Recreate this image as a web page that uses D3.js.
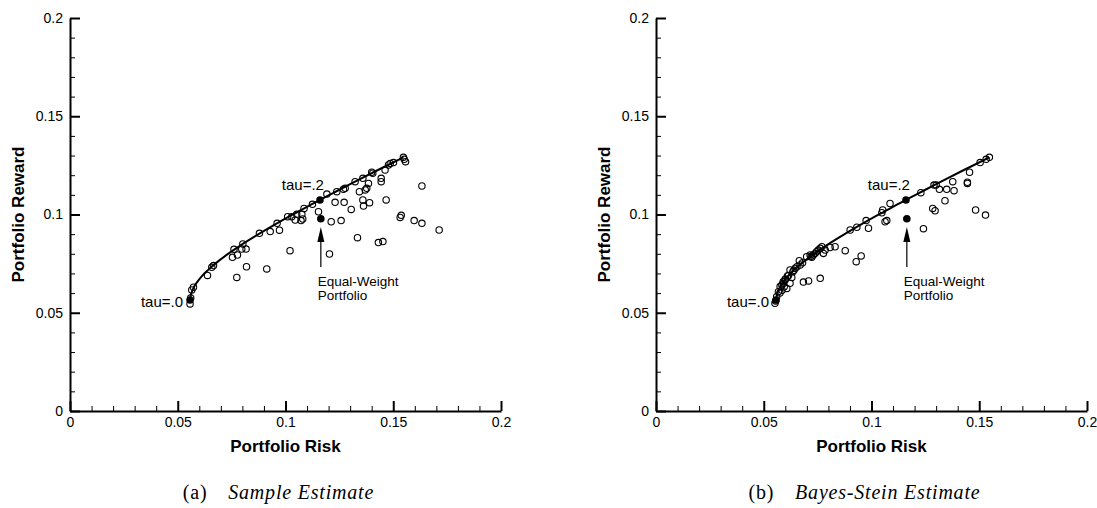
<!DOCTYPE html>
<html><head><meta charset="utf-8">
<script src="https://cdn.jsdelivr.net/npm/d3@7"></script>
<style>body{margin:0;background:#fff} svg{display:block}</style>
</head><body><svg id="c" width="1097" height="508"></svg>
<script>
const majorTicks=[0,0.05,0.1,0.15,0.2];
const tickLabels=["0","0.05","0.1","0.15","0.2"];
const minorTicks=[0.01,0.02,0.03,0.04,0.06,0.07,0.08,0.09,0.11,0.12,0.13,0.14,0.16,0.17,0.18,0.19];
const xTitle="Portfolio Risk", yTitle="Portfolio Reward";

const frontierRisk=[0.0557,0.0560,0.0565,0.0575,0.0590,0.0610,0.0640,0.0680,0.0730,0.0790,0.0860,0.0940,0.1030,0.1120,0.1160,0.1250,0.1350,0.1450,0.1547];
const frontierReward=[0.0557,0.0587,0.0605,0.0630,0.0656,0.0684,0.0717,0.0755,0.0797,0.0842,0.0890,0.0942,0.0998,0.1051,0.1075,0.1126,0.1183,0.1238,0.1291];

const sampleRisk=[0.0557,0.0560,0.0565,0.0573,0.0638,0.0658,0.0666,0.0754,0.0761,0.0777,0.0774,0.0802,0.0797,0.0817,0.0819,0.0879,0.0913,0.0929,0.0972,0.0961,0.1021,0.1010,0.1029,0.1045,0.1052,0.1072,0.1076,0.1086,0.1080,0.1153,
0.1212,0.1204,0.1230,0.1258,0.1272,0.1269,0.1238,0.1305,0.1323,0.1334,0.1343,0.1359,0.1362,0.1370,0.1377,0.1390,0.1385,0.1359,0.1405,0.1444,0.1444,0.1467,0.1431,0.1452,0.1462,0.1486,0.1501,0.1532,0.1537,0.1547,0.1551,0.1557,0.1597,0.1633,0.1633,0.1713,0.1192,0.1277,0.1400,0.1478,0.1125];
const sampleReward=[0.0545,0.0575,0.0616,0.0630,0.0690,0.0731,0.0740,0.0782,0.0823,0.0794,0.0680,0.0850,0.0824,0.0824,0.0734,0.0904,0.0723,0.0913,0.0920,0.0955,0.0816,0.0989,0.0989,0.0972,0.1001,0.0969,0.1001,0.1031,0.0977,0.1014,
0.0963,0.0799,0.1062,0.0969,0.1062,0.1128,0.1116,0.1026,0.1167,0.0882,0.1116,0.1074,0.1043,0.1125,0.1133,0.1060,0.1158,0.1184,0.1210,0.1184,0.1167,0.1074,0.0857,0.0862,0.1226,0.1260,0.1264,0.0985,0.0996,0.1291,0.1281,0.1269,0.0969,0.1145,0.0955,0.0921,0.1104,0.1133,0.1215,0.1252,0.1052];

const bayesRisk=[0.0552,0.0555,0.0560,0.0568,0.0576,0.0584,0.0591,0.0599,0.0607,0.0622,0.0630,0.0610,0.0622,0.0635,0.0646,0.0654,0.0669,0.0684,0.0708,0.0762,0.0665,0.0699,0.0715,0.0723,0.0730,0.0738,0.0745,0.0753,0.0762,0.0770,0.0777,0.0785,0.0808,0.0831,0.0878,0.0929,0.0952,0.0901,0.0932,0.0986,0.0975,0.1052,0.1063,0.1071,0.1086,0.1048,
0.1229,0.1241,0.1284,0.1295,0.1290,0.1300,0.1315,0.1341,0.1349,0.1377,0.1383,0.1445,0.1445,0.1455,0.1483,0.1529,0.1504,0.1532,0.1547,
0.0590,0.0600,0.0615,0.0640,0.0680,0.0720,0.0575,0.0585,0.0595];
const bayesReward=[0.0548,0.0560,0.0582,0.0607,0.0633,0.0641,0.0650,0.0667,0.0624,0.0650,0.0680,0.0687,0.0718,0.0709,0.0726,0.0734,0.0743,0.0656,0.0662,0.0675,0.0765,0.0785,0.0794,0.0782,0.0794,0.0802,0.0811,0.0819,0.0828,0.0836,0.0802,0.0819,0.0832,0.0836,0.0816,0.0760,0.0789,0.0921,0.0935,0.0930,0.0969,0.1023,0.0963,0.0969,0.1056,0.1009,
0.1111,0.0928,0.1031,0.1019,0.1150,0.1150,0.1128,0.1070,0.1128,0.1167,0.1121,0.1164,0.1158,0.1215,0.1023,0.0997,0.1264,0.1281,0.1291,
0.0658,0.0672,0.0690,0.0716,0.0755,0.0787,0.0600,0.0615,0.0632];

const tauRisk=[0.0557,0.1160];
const tauReward=[0.0565,0.1074];
const tauLabels=["tau=.0","tau=.2"];
const eqRisk=[0.1164], eqReward=[0.0978];
const eqLabel=["Equal-Weight","Portfolio"];
const arrowBase=[0.0733], arrowTip=[0.0936];
const captionTags=["(a)","(b)"];
const captionTexts=["Sample Estimate","Bayes-Stein Estimate"];

const svg=d3.select("#c");
const yTop=18, yBottom=411, W=431;
const panelLefts=[70,656];
const series=[[sampleRisk,sampleReward],[bayesRisk,bayesReward]];

panelLefts.forEach((L,pi)=>{
  const x=d3.scaleLinear().domain([0,0.2]).range([L,L+W]);
  const y=d3.scaleLinear().domain([0,0.2]).range([yBottom,yTop]);
  const g=svg.append("g");
  const font="Liberation Sans, Arial, Helvetica, sans-serif";
  // minor ticks
  g.append("g").attr("transform",`translate(0,${yBottom})`)
    .call(d3.axisBottom(x).tickValues(minorTicks).tickSize(-5).tickFormat(""))
    .call(s=>{s.select(".domain").remove();s.selectAll("line").attr("stroke","#000").attr("stroke-width",1);});
  g.append("g").attr("transform",`translate(${L},0)`)
    .call(d3.axisLeft(y).tickValues(minorTicks).tickSize(-5).tickFormat(""))
    .call(s=>{s.select(".domain").remove();s.selectAll("line").attr("stroke","#000").attr("stroke-width",1);});
  // major
  const xa=g.append("g").attr("transform",`translate(0,${yBottom})`)
    .call(d3.axisBottom(x).tickValues(majorTicks).tickSize(-10).tickSizeOuter(0).tickPadding(6).tickFormat((d,i)=>tickLabels[i]));
  const ya=g.append("g").attr("transform",`translate(${L},0)`)
    .call(d3.axisLeft(y).tickValues(majorTicks).tickSize(-10).tickSizeOuter(0).tickPadding(7).tickFormat((d,i)=>tickLabels[i]));
  [xa,ya].forEach(a=>{
    a.select(".domain").attr("stroke","#000").attr("stroke-width",2);
    a.selectAll(".tick line").attr("stroke","#000").attr("stroke-width",2);
    a.selectAll(".tick text").attr("fill","#000").style("font-family",font).style("font-size","14px");
  });
  // titles
  g.append("text").attr("x",L+W/2).attr("y",452).attr("text-anchor","middle")
    .style("font-family",font).style("font-size","17px").style("font-weight","bold").text(xTitle);
  g.append("text").attr("transform",`translate(${L-46},${(yTop+yBottom)/2}) rotate(-90)`).attr("text-anchor","middle")
    .style("font-family",font).style("font-size","17px").style("font-weight","bold").text(yTitle);
  // frontier
  const pts=frontierRisk.map((r,i)=>[r,frontierReward[i]]);
  g.append("path").datum(pts).attr("fill","none").attr("stroke","#000").attr("stroke-width",2)
    .attr("d",d3.line().x(d=>x(d[0])).y(d=>y(d[1])).curve(d3.curveMonotoneX));
  // scatter
  const [sr,sw]=series[pi];
  g.append("g").selectAll("circle").data(sr.map((r,i)=>[r,sw[i]])).join("circle")
    .attr("cx",d=>x(d[0])).attr("cy",d=>y(d[1])).attr("r",3.2)
    .attr("fill","none").attr("stroke","#000").attr("stroke-width",1.1);
  // tau points
  g.append("g").selectAll("circle").data(tauRisk.map((r,i)=>[r,tauReward[i]])).join("circle")
    .attr("cx",d=>x(d[0])).attr("cy",d=>y(d[1])).attr("r",3.8).attr("fill","#000");
  g.append("text").attr("x",x(tauRisk[0])-7).attr("y",y(tauReward[0])+7).attr("text-anchor","end")
    .style("font-family",font).style("font-size","15px").text(tauLabels[0]);
  g.append("text").attr("x",x(tauRisk[1])+4).attr("y",y(tauReward[1])-10).attr("text-anchor","end")
    .style("font-family",font).style("font-size","15px").text(tauLabels[1]);
  // equal weight
  g.append("circle").attr("cx",x(eqRisk[0])).attr("cy",y(eqReward[0])).attr("r",3.8).attr("fill","#000");
  const ax=x(eqRisk[0]), tipY=y(arrowTip[0]), baseY=y(arrowBase[0]);
  g.append("line").attr("x1",ax).attr("x2",ax).attr("y1",baseY).attr("y2",tipY+10).attr("stroke","#000").attr("stroke-width",1.2);
  g.append("path").attr("d",`M${ax},${tipY} L${ax-3.5},${tipY+15} L${ax+3.5},${tipY+15} Z`).attr("fill","#000");
  g.append("text").attr("x",ax-3).attr("y",286).style("font-family",font).style("font-size","13.5px").text(eqLabel[0]);
  g.append("text").attr("x",ax-3).attr("y",300).style("font-family",font).style("font-size","13.5px").text(eqLabel[1]);
  // caption
  const cap=g.append("text").attr("x",L+W/2-7).attr("y",499).attr("text-anchor","middle")
    .style("font-family","Liberation Serif, DejaVu Serif, serif").style("font-size","20px").style("letter-spacing","0.8px");
  cap.append("tspan").text(captionTags[pi]+"\u2003");
  cap.append("tspan").style("font-style","italic").text(captionTexts[pi]);
});
</script></body></html>
